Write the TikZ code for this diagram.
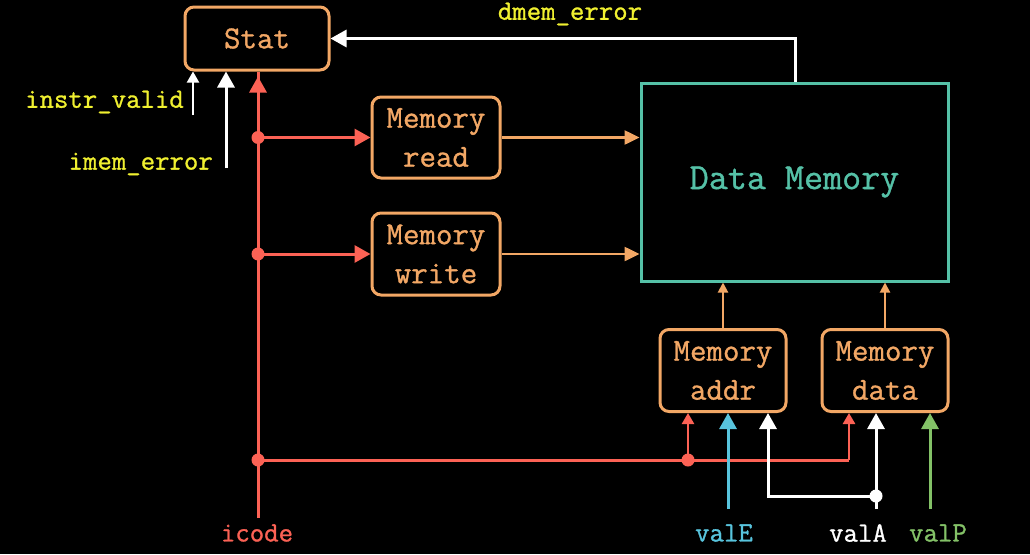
\documentclass[tikz,border=0pt]{standalone}
\usepackage{fontspec}
\usetikzlibrary{arrows.meta}
\newfontfamily\diagtt{Latin Modern Mono}[FakeBold=1.0]
\definecolor{boxorange}{HTML}{F2A765}
\definecolor{sigred}{HTML}{FC6255}
\definecolor{sigblue}{HTML}{58C4DD}
\definecolor{siggreen}{HTML}{83C167}
\definecolor{memteal}{HTML}{55C1A7}
\definecolor{sigyellow}{HTML}{F0F030}
\tikzset{
  unit/.style={draw=boxorange, text=boxorange, line width=3pt, rounded corners=9pt,
    align=center, font=\fontsize{32}{39}\selectfont\diagtt, inner sep=0pt},
  siglabel/.style={font=\fontsize{28}{32}\selectfont\diagtt, inner sep=0pt},
  bigtip/.style={-{Triangle[length=16pt,width=17pt]}},
  smalltip/.style={-{Triangle[length=11pt,width=12pt]}},
}
\begin{document}
\begin{tikzpicture}[x=1pt,y=-1pt]
\fill[black] (0,0) rectangle (1030,554);
\useasboundingbox (0,0) rectangle (1030,554);

% functional units
\node[unit, minimum width=144pt, minimum height=63pt] (stat) at (257,38.5) {Stat};
\node[unit, minimum width=128pt, minimum height=81pt] (mread) at (436,137.5) {Memory\\read};
\node[unit, minimum width=128pt, minimum height=82pt] (mwrite) at (436,254) {Memory\\write};
\node[draw=memteal, text=memteal, line width=3pt, minimum width=307pt, minimum height=198pt,
      font=\fontsize{37}{40}\selectfont\diagtt, inner sep=0pt] (dmem) at (794.5,182) {Data Memory};
\node[unit, minimum width=126pt, minimum height=82pt] (maddr) at (723,370.5) {Memory\\addr};
\node[unit, minimum width=126pt, minimum height=82pt] (mdata) at (885,370.5) {Memory\\data};

% signal labels
\node[siglabel, text=sigyellow, anchor=east] (instrvalid) at (184,102) {instr\_valid};
\node[siglabel, text=sigyellow, anchor=east] (imemerror) at (213,164) {imem\_error};
\node[siglabel, text=sigyellow] (dmemerror) at (570,14) {dmem\_error};
\node[siglabel, text=sigred] (icode) at (257,533) {icode};
\node[siglabel, text=sigblue] (valE) at (724,533) {valE};
\node[siglabel, text=white] (valA) at (858,533) {valA};
\node[siglabel, text=siggreen] (valP) at (938,533) {valP};

% free ends and junction points
\coordinate (ivstart) at (193,115);
\coordinate (iestart) at (226,168);
\coordinate (icbot) at (258,518);
\coordinate (jread) at (258,137.5);
\coordinate (jwrite) at (258,254);
\coordinate (jlow) at (258,460);
\coordinate (jaddr) at (688,460);
\coordinate (jdata) at (849,460);
\coordinate (dmcorner) at (795,38.5);
\coordinate (vEbot) at (728,509);
\coordinate (vAbot) at (876,509);
\coordinate (vAjoin) at (876,496);
\coordinate (vAturn) at (768,496);
\coordinate (vPbot) at (930,509);

% status inputs
\draw[white, line width=2pt, smalltip] (ivstart) -- (ivstart |- stat.south);
\draw[white, line width=3pt, bigtip] (iestart) -- (iestart |- stat.south);
\draw[white, line width=3pt, bigtip] (dmem.north -| dmcorner) -- (dmcorner) -- (stat.east);

% icode distribution
\draw[sigred, line width=3pt, bigtip] (icbot) -- (icbot |- stat.south) ++(0,5);
\draw[sigred, line width=3pt, bigtip] (jread) -- (mread.west);
\draw[sigred, line width=3pt, bigtip] (jwrite) -- (mwrite.west);
\draw[sigred, line width=3pt] (jlow) -- (jdata);
\draw[sigred, line width=2.5pt, smalltip] (jdata) -- (jdata |- mdata.south);
\draw[sigred, line width=2.5pt, smalltip] (jaddr) -- (jaddr |- maddr.south);
\fill[sigred] (jread) circle (6.5pt) (jwrite) circle (6.5pt) (jlow) circle (6.5pt) (jaddr) circle (6.5pt);

% control and data into memory
\draw[boxorange, line width=2.5pt, -{Triangle[length=15pt,width=14pt]}] (mread.east) -- (mread.east -| dmem.west);
\draw[boxorange, line width=2.5pt, -{Triangle[length=15pt,width=14pt]}] (mwrite.east) -- (mwrite.east -| dmem.west);
\draw[boxorange, line width=2pt, -{Triangle[length=10pt,width=10pt]}] (maddr.north) -- (maddr.north |- dmem.south);
\draw[boxorange, line width=2pt, -{Triangle[length=10pt,width=10pt]}] (mdata.north) -- (mdata.north |- dmem.south);

% operand values
\draw[sigblue, line width=3pt, bigtip] (vEbot) -- (vEbot |- maddr.south);
\draw[white, line width=3pt, bigtip] (vAbot) -- (vAbot |- mdata.south);
\draw[white, line width=3pt, bigtip] (vAjoin) -- (vAturn) -- (vAturn |- maddr.south);
\fill[white] (vAjoin) circle (6.5pt);
\draw[siggreen, line width=3pt, bigtip] (vPbot) -- (vPbot |- mdata.south);
\end{tikzpicture}
\end{document}
